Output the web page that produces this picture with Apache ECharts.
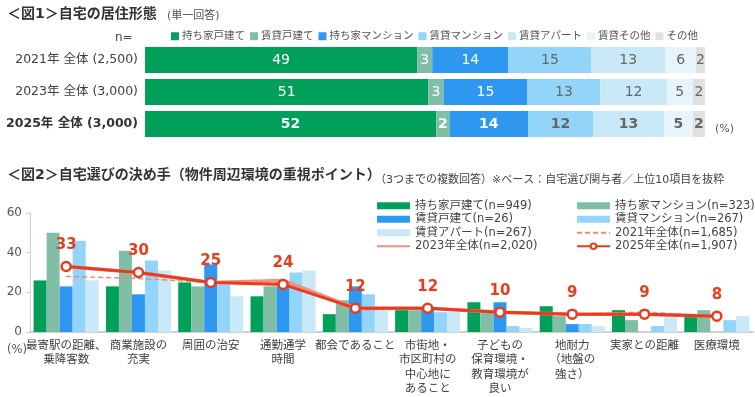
<!DOCTYPE html>
<html>
<head>
<meta charset="utf-8">
<script src="https://cdn.jsdelivr.net/npm/echarts@6/dist/echarts.min.js"></script>
<style>
  html, body { margin: 0; padding: 0; background: #fff; }
  #chart { width: 755px; height: 397px; }
</style>
</head>
<body>
<div id="chart"></div>
<script>
// 図1: 居住形態 (shares, labels show rounded %)
var rowLabels = ['2021年 全体 (2,500)', '2023年 全体 (3,000)', '2025年 全体 (3,000)'];
var typeNames = ['持ち家戸建て', '賃貸戸建て', '持ち家マンション', '賃貸マンション', '賃貸アパート', '賃貸その他', 'その他'];
var share2021 = [48.6, 2.7, 13.6, 14.8, 13.2, 5.5, 1.6];
var share2023 = [50.6, 2.7, 15.0, 13.0, 11.9, 4.6, 2.2];
var share2025 = [52.0, 2.4, 14.0, 11.6, 12.7, 5.1, 2.2];

// 図2: 決め手
var points = ['最寄駅の距離、\n乗降客数', '商業施設の\n充実', '周囲の治安', '通勤通学\n時間', '都会であること',
  '市街地・\n市区町村の\n中心地に\nあること', '子どもの\n保育環境・\n教育環境が\n良い', '地耐力\n（地盤の\n強さ）',
  '実家との距離', '医療環境'];
var ownHouse = [26, 23, 25, 18, 9, 11, 15, 13, 11, 9];
var rentHouse = [50, 41, 23, 23, 16, 11, 10, 8, 6, 11];
var ownMansion = [23, 19, 34, 23, 23, 12, 15, 4, 0, 0];
var rentMansion = [46, 36, 24, 30, 19, 10, 3, 4, 3, 6];
var rentApart = [26, 31, 18, 31, 11, 10, 2, 3, 8, 8];
var all2021 = [28, 27, 25, 25, 11, 12, 10, 9, 10, 8];
var all2023 = [33, 30, 25, 26, 12, 12, 10, 9, 9, 8];
var all2025 = [33, 30, 25, 24, 12, 12, 10, 9, 9, 8];

var FONT = 'Verdana, "DejaVu Sans", "Noto Sans CJK JP", sans-serif';
var colors = ['#00a05a', '#80bea6', '#2e98f0', '#92d5f8', '#c9e8f8', '#e7f4fc', '#e0e0e0'];
var labelColors = ['#fff', '#fff', '#fff', '#666', '#666', '#666', '#666'];

var chart = echarts.init(document.getElementById('chart'));

var series = [];
typeNames.forEach(function (name, k) {
  var vals = [share2021[k], share2023[k], share2025[k]];
  series.push({
    name: name,
    type: 'bar',
    stack: 'share',
    xAxisIndex: 0,
    yAxisIndex: 0,
    barWidth: 26,
    itemStyle: { color: colors[k] },
    label: {
      show: true,
      position: 'inside',
      color: labelColors[k],
      fontSize: 14,
      fontFamily: FONT,
      formatter: function (p) { return Math.round(p.value); }
    },
    data: vals.map(function (v, i) {
      return { value: v, label: { fontWeight: i === 2 ? 'bold' : 'normal' } };
    })
  });
});

var barSets = [
  ['持ち家戸建て(n=949)', ownHouse, colors[0]],
  ['持ち家マンション(n=323)', rentHouse, colors[1]],
  ['賃貸戸建て(n=26)', ownMansion, colors[2]],
  ['賃貸マンション(n=267)', rentMansion, colors[3]],
  ['賃貸アパート(n=267)', rentApart, colors[4]]
];
barSets.forEach(function (s) {
  series.push({
    name: s[0],
    type: 'bar',
    xAxisIndex: 1,
    yAxisIndex: 1,
    barGap: '0%',
    barCategoryGap: '10%',
    itemStyle: { color: s[2] },
    data: s[1]
  });
});

series.push({
  name: '2021年全体(n=1,685)',
  type: 'line',
  xAxisIndex: 1,
  yAxisIndex: 1,
  symbol: 'circle',
  showSymbol: false,
  lineStyle: { color: '#ee8a72', width: 1.5, type: [5, 3] },
  itemStyle: { color: 'rgba(0,0,0,0)' },
  z: 3,
  data: all2021
});
series.push({
  name: '2023年全体(n=2,020)',
  type: 'line',
  xAxisIndex: 1,
  yAxisIndex: 1,
  symbol: 'circle',
  showSymbol: false,
  lineStyle: { color: '#f2917c', width: 3.5 },
  itemStyle: { color: 'rgba(0,0,0,0)' },
  z: 4,
  data: all2023
});
series.push({
  name: '2025年全体(n=1,907)',
  type: 'line',
  xAxisIndex: 1,
  yAxisIndex: 1,
  symbol: 'circle',
  symbolSize: 9,
  lineStyle: { color: '#e83c1e', width: 3 },
  itemStyle: { color: '#fff', borderColor: '#e83c1e', borderWidth: 2.5 },
  label: {
    show: true,
    position: 'top',
    distance: 8,
    color: '#e83c1e',
    fontSize: 15,
    fontWeight: 'bold',
    fontFamily: FONT
  },
  z: 5,
  data: all2025
});

var legendText = { color: '#444', fontSize: 11.5, fontFamily: FONT, lineHeight: 13.5 };
function legendItems(names) {
  return names.map(function (n) {
    return n.indexOf('全体') > -1 ? { name: n } : { name: n, icon: 'rect' };
  });
}

chart.setOption({
  animation: false,
  textStyle: { fontFamily: FONT },
  title: [
    { text: '＜図1＞自宅の居住形態', left: 2, top: 2, textStyle: { fontSize: 14, fontWeight: 'bold', color: '#333', fontFamily: FONT } },
    { text: '(単一回答)', left: 162, top: 6, textStyle: { fontSize: 11, fontWeight: 'normal', color: '#555', fontFamily: FONT } },
    { text: 'n=', left: 110, top: 27, textStyle: { fontSize: 12, fontWeight: 'normal', color: '#444', fontFamily: FONT } },
    { text: '(%)', left: 710, top: 119, textStyle: { fontSize: 11, fontWeight: 'normal', color: '#555', fontFamily: FONT } },
    { text: '＜図2＞自宅選びの決め手（物件周辺環境の重視ポイント）', left: 2, top: 163, textStyle: { fontSize: 14, fontWeight: 'bold', color: '#333', fontFamily: FONT } },
    { text: '（3つまでの複数回答）※ベース：自宅選び関与者／上位10項目を抜粋', left: 370, top: 170, textStyle: { fontSize: 11, fontWeight: 'normal', color: '#444', fontFamily: FONT } },
    { text: '(%)', left: 2, top: 339, textStyle: { fontSize: 11.5, fontWeight: 'normal', color: '#555', fontFamily: FONT } }
  ],
  legend: [
    {
      data: typeNames,
      left: 166,
      top: 26,
      itemWidth: 8,
      itemHeight: 8,
      itemGap: 5,
      icon: 'rect',
      textStyle: { color: '#555', fontSize: 10.5, fontFamily: FONT, padding: [0, 0, 0, -2] }
    },
    {
      data: legendItems(['持ち家戸建て(n=949)', '賃貸戸建て(n=26)', '賃貸アパート(n=267)', '2023年全体(n=2,020)']),
      orient: 'vertical',
      left: 371,
      top: 194,
      itemWidth: 33,
      itemHeight: 7,
      itemGap: 0,
      textStyle: legendText
    },
    {
      data: legendItems(['持ち家マンション(n=323)', '賃貸マンション(n=267)', '2021年全体(n=1,685)', '2025年全体(n=1,907)']),
      orient: 'vertical',
      left: 571,
      top: 194,
      itemWidth: 33,
      itemHeight: 7,
      itemGap: 0,
      textStyle: legendText
    }
  ],
  grid: [
    { left: 145, width: 560, top: 44, height: 96 },
    { left: 30, right: 2, top: 213, height: 119 }
  ],
  xAxis: [
    { type: 'value', gridIndex: 0, min: 0, max: 100, show: false },
    {
      type: 'category',
      gridIndex: 1,
      data: points,
      axisLine: { lineStyle: { color: '#d0d0d0', width: 2 } },
      axisTick: { show: false },
      axisLabel: { interval: 0, color: '#404040', fontSize: 11.5, lineHeight: 14.3, margin: 7, fontFamily: FONT }
    }
  ],
  yAxis: [
    {
      type: 'category',
      gridIndex: 0,
      inverse: true,
      data: rowLabels,
      axisLine: { show: false },
      axisTick: { show: false },
      axisLabel: {
        margin: 7,
        color: '#404040',
        fontSize: 12.5,
        fontFamily: FONT,
        formatter: function (v, i) { return i === 2 ? '{b|' + v + '}' : v; },
        rich: { b: { fontWeight: 'bold', color: '#333', fontSize: 12.5, fontFamily: FONT } }
      }
    },
    {
      type: 'value',
      gridIndex: 1,
      min: 0,
      max: 60,
      interval: 20,
      splitLine: { show: false },
      axisLine: { show: true, lineStyle: { color: '#d0d0d0' } },
      axisTick: { show: true, length: 4, lineStyle: { color: '#d0d0d0' } },
      axisLabel: { color: '#555', fontSize: 12, margin: 8, fontFamily: FONT }
    }
  ],
  series: series
});
</script>
</body>
</html>
